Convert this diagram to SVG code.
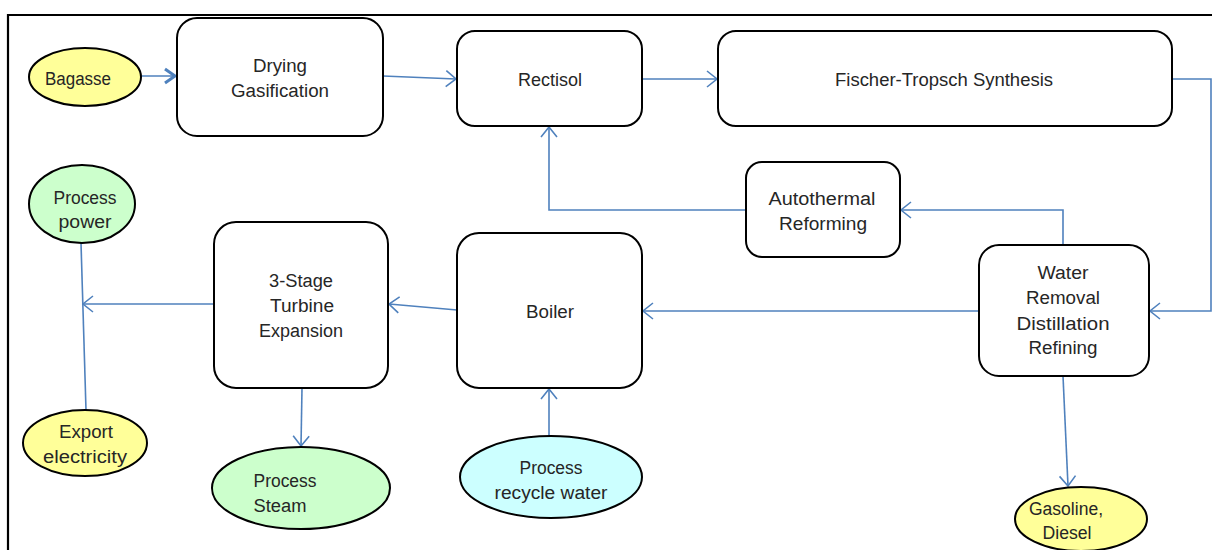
<svg xmlns="http://www.w3.org/2000/svg" width="1212" height="550" viewBox="0 0 1212 550">
  <style>
    .box { fill: #ffffff; stroke: #000000; stroke-width: 2; }
    .yellow { fill: #ffff99; stroke: #000000; stroke-width: 2; }
    .green { fill: #ccffcc; stroke: #000000; stroke-width: 2; }
    .cyan { fill: #ccffff; stroke: #000000; stroke-width: 2; }
    .lbl { font-family: "Liberation Sans", Arial, sans-serif; font-size: 18px; fill: #262626; text-anchor: middle; }
    .flow { fill: none; stroke: #4f81bd; stroke-width: 1.6; }
    .frame { fill: none; stroke: #000000; stroke-width: 2.2; }
  </style>
  <defs>
    <marker id="arrow" markerUnits="userSpaceOnUse" markerWidth="16" markerHeight="20" viewBox="-12 -10 14 20" refX="0" refY="0" orient="auto">
      <path d="M -10 -8 L 0 0 L -10 8" fill="none" stroke="#4f81bd" stroke-width="1.6"/>
    </marker>
    <marker id="arrowBold" markerUnits="userSpaceOnUse" markerWidth="16" markerHeight="20" viewBox="-12 -10 14 20" refX="0" refY="0" orient="auto">
      <path d="M -10 -7 L 0 0 L -10 7" fill="none" stroke="#4f81bd" stroke-width="3"/>
    </marker>
  </defs>

  <rect width="1212" height="550" fill="#ffffff"/>
  <!-- frame -->
  <path class="frame" d="M 8 550 L 8 15 L 1212 15"/>

  <!-- connectors -->
  <g id="connectors">
    <path class="flow" d="M 141 76 L 175 76" stroke-width="3" marker-end="url(#arrowBold)"/>
    <path class="flow" d="M 383 76 L 456 79" marker-end="url(#arrow)"/>
    <path class="flow" d="M 642 79 L 717 79" marker-end="url(#arrow)"/>
    <path class="flow" d="M 1172 79 L 1211 79 L 1211 311 L 1150 311" marker-end="url(#arrow)"/>
    <path class="flow" d="M 1063 245 L 1063 210 L 901 210" marker-end="url(#arrow)"/>
    <path class="flow" d="M 746 210 L 549 210 L 549 127" marker-end="url(#arrow)"/>
    <path class="flow" d="M 979 311 L 643 311" marker-end="url(#arrow)"/>
    <path class="flow" d="M 457 310 L 389 304" marker-end="url(#arrow)"/>
    <path class="flow" d="M 214 304 L 83 304" marker-end="url(#arrow)"/>
    <path class="flow" d="M 81 243 L 86 410"/>
    <path class="flow" d="M 302 388 L 301 446" marker-end="url(#arrow)"/>
    <path class="flow" d="M 549 436 L 549 389" marker-end="url(#arrow)"/>
    <path class="flow" d="M 1063 376 L 1068 486" marker-end="url(#arrow)"/>
  </g>

  <g id="bagasse">
    <ellipse class="yellow" cx="85" cy="77" rx="56" ry="29"/>
    <text class="lbl" x="78" y="85" textLength="66" lengthAdjust="spacingAndGlyphs">Bagasse</text>
  </g>

  <g id="drying-gasification">
    <rect class="box" x="177" y="18" width="206" height="118" rx="20"/>
    <text class="lbl" x="280" y="72" textLength="54" lengthAdjust="spacingAndGlyphs">Drying</text>
    <text class="lbl" x="280" y="97" textLength="98" lengthAdjust="spacingAndGlyphs">Gasification</text>
  </g>

  <g id="rectisol">
    <rect class="box" x="457" y="31" width="185" height="95" rx="18"/>
    <text class="lbl" x="550" y="86" textLength="64" lengthAdjust="spacingAndGlyphs">Rectisol</text>
  </g>

  <g id="fischer-tropsch">
    <rect class="box" x="718" y="31" width="454" height="95" rx="18"/>
    <text class="lbl" x="944" y="86" textLength="218" lengthAdjust="spacingAndGlyphs">Fischer-Tropsch Synthesis</text>
  </g>

  <g id="autothermal-reforming">
    <rect class="box" x="746" y="162" width="154" height="95" rx="16"/>
    <text class="lbl" x="822" y="205" textLength="107" lengthAdjust="spacingAndGlyphs">Autothermal</text>
    <text class="lbl" x="823" y="230" textLength="88" lengthAdjust="spacingAndGlyphs">Reforming</text>
  </g>

  <g id="water-removal">
    <rect class="box" x="979" y="245" width="170" height="131" rx="20"/>
    <text class="lbl" x="1063" y="279" textLength="51" lengthAdjust="spacingAndGlyphs">Water</text>
    <text class="lbl" x="1063" y="304" textLength="74" lengthAdjust="spacingAndGlyphs">Removal</text>
    <text class="lbl" x="1063" y="330" textLength="93" lengthAdjust="spacingAndGlyphs">Distillation</text>
    <text class="lbl" x="1063" y="354" textLength="69" lengthAdjust="spacingAndGlyphs">Refining</text>
  </g>

  <g id="boiler">
    <rect class="box" x="457" y="233" width="185" height="155" rx="22"/>
    <text class="lbl" x="550" y="318" textLength="48" lengthAdjust="spacingAndGlyphs">Boiler</text>
  </g>

  <g id="turbine">
    <rect class="box" x="214" y="222" width="174" height="166" rx="22"/>
    <text class="lbl" x="301" y="287" textLength="64" lengthAdjust="spacingAndGlyphs">3-Stage</text>
    <text class="lbl" x="302" y="312" textLength="64" lengthAdjust="spacingAndGlyphs">Turbine</text>
    <text class="lbl" x="301" y="337" textLength="84" lengthAdjust="spacingAndGlyphs">Expansion</text>
  </g>

  <g id="process-power">
    <ellipse class="green" cx="82" cy="204" rx="53" ry="39"/>
    <text class="lbl" x="85" y="204" textLength="63" lengthAdjust="spacingAndGlyphs">Process</text>
    <text class="lbl" x="85" y="228" textLength="53" lengthAdjust="spacingAndGlyphs">power</text>
  </g>

  <g id="export-electricity">
    <ellipse class="yellow" cx="85" cy="443" rx="62" ry="33"/>
    <text class="lbl" x="86" y="438" textLength="54" lengthAdjust="spacingAndGlyphs">Export</text>
    <text class="lbl" x="85" y="463" textLength="84" lengthAdjust="spacingAndGlyphs">electricity</text>
  </g>

  <g id="process-steam">
    <ellipse class="green" cx="301" cy="488" rx="89" ry="41"/>
    <text class="lbl" x="285" y="487" textLength="63" lengthAdjust="spacingAndGlyphs">Process</text>
    <text class="lbl" x="280" y="512" textLength="53" lengthAdjust="spacingAndGlyphs">Steam</text>
  </g>

  <g id="process-recycle-water">
    <ellipse class="cyan" cx="551" cy="477" rx="91" ry="41"/>
    <text class="lbl" x="551" y="474" textLength="63" lengthAdjust="spacingAndGlyphs">Process</text>
    <text class="lbl" x="551" y="499" textLength="113" lengthAdjust="spacingAndGlyphs">recycle water</text>
  </g>

  <g id="gasoline-diesel">
    <ellipse class="yellow" cx="1081" cy="519" rx="66" ry="32"/>
    <text class="lbl" x="1066" y="515" textLength="74" lengthAdjust="spacingAndGlyphs">Gasoline,</text>
    <text class="lbl" x="1067" y="539" textLength="49" lengthAdjust="spacingAndGlyphs">Diesel</text>
  </g>
</svg>
